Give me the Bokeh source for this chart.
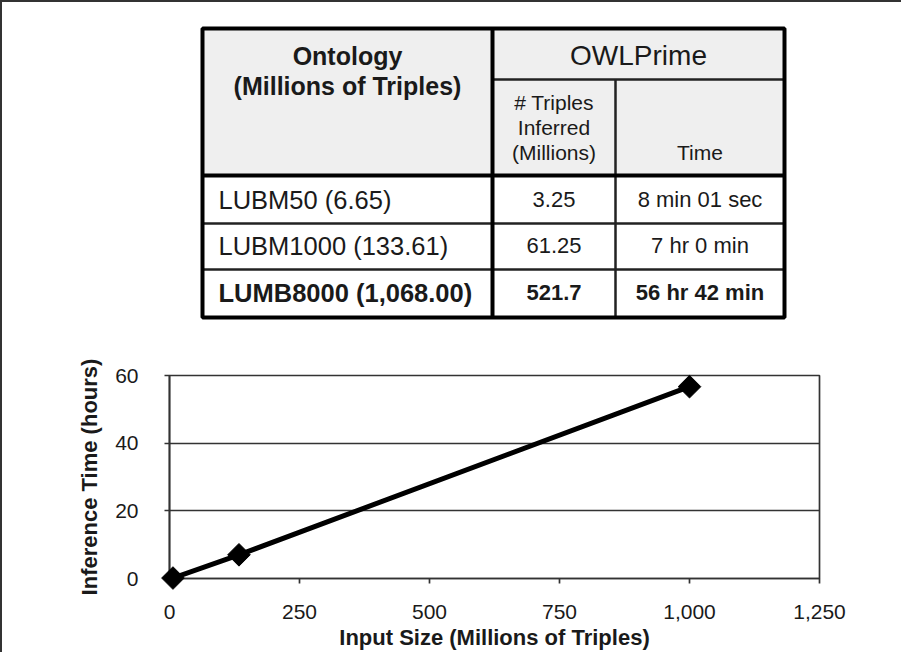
import numpy as np
from bokeh.plotting import figure
from bokeh.layouts import column
from bokeh.models import Range1d, FixedTicker, NumeralTickFormatter
from bokeh.core.properties import value
from bokeh.embed import file_html
from bokeh.resources import INLINE

# ---------------- data ----------------
header_left = ["Ontology", "(Millions of Triples)"]
header_group = "OWLPrime"
header_inferred = ["# Triples", "Inferred", "(Millions)"]
header_time = "Time"
ontology = ["LUBM50 (6.65)", "LUBM1000 (133.61)", "LUMB8000 (1,068.00)"]
inferred = ["3.25", "61.25", "521.7"]
times = ["8 min 01 sec", "7 hr 0 min", "56 hr 42 min"]
row_bold = [False, False, True]

input_size = [6.65, 133.61, 1000]
inference_hours = [0.134, 7.0, 56.7]
x_ticks = [0, 250, 500, 750, 1000, 1250]
y_ticks = [0, 20, 40, 60]
x_label = "Input Size (Millions of Triples)"
y_label = "Inference Time (hours)"

# ---------------- layout / style ----------------
FONT = "Liberation Sans"
W = 899
TOP_H = 343
BOT_H = 307
INK = "#1a1a1a"
BORDER_L, BORDER_R = 167, 82   # shared by both figures (frames are aligned in a column)
PAGE_X0 = 10                     # page x of the figures' left edge

# table geometry in page pixels (top figure data coords == page coords)
TL, TR, TT, TB = 210, 792, 36, 325
C1, C2 = 500, 623
H1, H2 = 87, 183
ROW_LINES = [231, 277]
ROW_Y = [207, 253, 300]
HDR_Y = [63, 93]
SUB_Y = [110, 135, 160]

col0 = (TL + C1) / 2
col1 = (C1 + C2) / 2
col2 = (C2 + TR) / 2
grp = (C1 + TR) / 2

fx0 = PAGE_X0 + BORDER_L
fx1 = PAGE_X0 + W - BORDER_R
t = figure(width=W, height=TOP_H, x_range=Range1d(fx0, fx1),
           y_range=Range1d(10 + TOP_H, 10), output_backend="svg",
           toolbar_location=None, x_axis_location=None, y_axis_location=None,
           min_border=0, min_border_left=BORDER_L, min_border_right=BORDER_R,
           outline_line_color=None)
t.grid.visible = False

t.quad(left=TL, right=TR, top=TT, bottom=H2, fill_color="#efefef", line_color=None)
thin_x0 = [C1, C2] + [TL] * len(ROW_LINES)
thin_x1 = [TR, C2] + [TR] * len(ROW_LINES)
thin_y0 = [H1, H1] + ROW_LINES
thin_y1 = [H1, TB] + ROW_LINES
t.segment(x0=thin_x0, y0=thin_y0, x1=thin_x1, y1=thin_y1, line_color="#222222", line_width=2.5)
t.segment(x0=[C1, TL], y0=[TT, H2], x1=[C1, TR], y1=[TB, H2], line_color="black", line_width=4)
t.quad(left=TL, right=TR, top=TT, bottom=TB, fill_color=None, line_color="black", line_width=4)

def txt(fig, x, y, s, size, bold=False, align="center"):
    fig.text(x=[x], y=[y], text=[s], text_font=value(FONT), text_font_size=size,
             text_font_style="bold" if bold else "normal", text_align=align,
             text_baseline="middle", text_color=INK)

for s, y in zip(header_left, HDR_Y):
    txt(t, col0, y, s, "25px", bold=True)
txt(t, grp, HDR_Y[0], header_group, "28px")
for s, y in zip(header_inferred, SUB_Y):
    txt(t, col1, y, s, "21px")
txt(t, col2, SUB_Y[-1], header_time, "21px")
for name, inf, tm, b, y in zip(ontology, inferred, times, row_bold, ROW_Y):
    txt(t, TL + 16, y, name, "25.5px", bold=b, align="left")
    txt(t, col1, y, inf, "22px", bold=b)
    txt(t, col2, y, tm, "22px", bold=b)

# ---------------- chart ----------------
GRID = "#333333"
p = figure(width=W, height=BOT_H, x_range=Range1d(0, 1250), y_range=Range1d(0, 60),
           output_backend="svg", toolbar_location=None,
           min_border_left=BORDER_L, min_border_right=BORDER_R,
           min_border_top=30, min_border_bottom=73,
           outline_line_color=GRID, outline_line_width=1.7)
p.xgrid.visible = False
p.ygrid.grid_line_color = GRID
p.ygrid.grid_line_width = 1.7

p.xaxis.ticker = FixedTicker(ticks=x_ticks)
p.xaxis.formatter = NumeralTickFormatter(format="0,0")
p.yaxis.ticker = FixedTicker(ticks=y_ticks)
for ax in (p.xaxis, p.yaxis):
    ax.major_label_text_font = FONT
    ax.major_label_text_font_size = "21px"
    ax.major_label_text_color = INK
    ax.axis_line_color = GRID
    ax.axis_line_width = 1.7
    ax.major_tick_line_color = GRID
    ax.major_tick_line_width = 1.7
    ax.major_tick_in = 0
    ax.major_tick_out = 5
    ax.minor_tick_line_color = None
    ax.axis_label_text_font = FONT
    ax.axis_label_text_font_size = "22px"
    ax.axis_label_text_font_style = "bold"
    ax.axis_label_text_color = INK
p.xaxis.major_label_standoff = 21
p.yaxis.major_label_standoff = 26
p.xaxis.axis_label = x_label
p.yaxis.axis_label = y_label
p.xaxis.axis_label_standoff = 3
p.yaxis.axis_label_standoff = 10

p.line(input_size, inference_hours, line_color="black", line_width=5)
mk = p.scatter(input_size, inference_hours, marker="square", angle=np.pi / 4, size=16,
               fill_color="black", line_color="black")
mk.level = "overlay"

layout = column(t, p, styles={"border-top": "2px solid #333333",
                              "border-left": "2px solid #333333"})

open("out.html", "w").write(file_html(layout, INLINE))
